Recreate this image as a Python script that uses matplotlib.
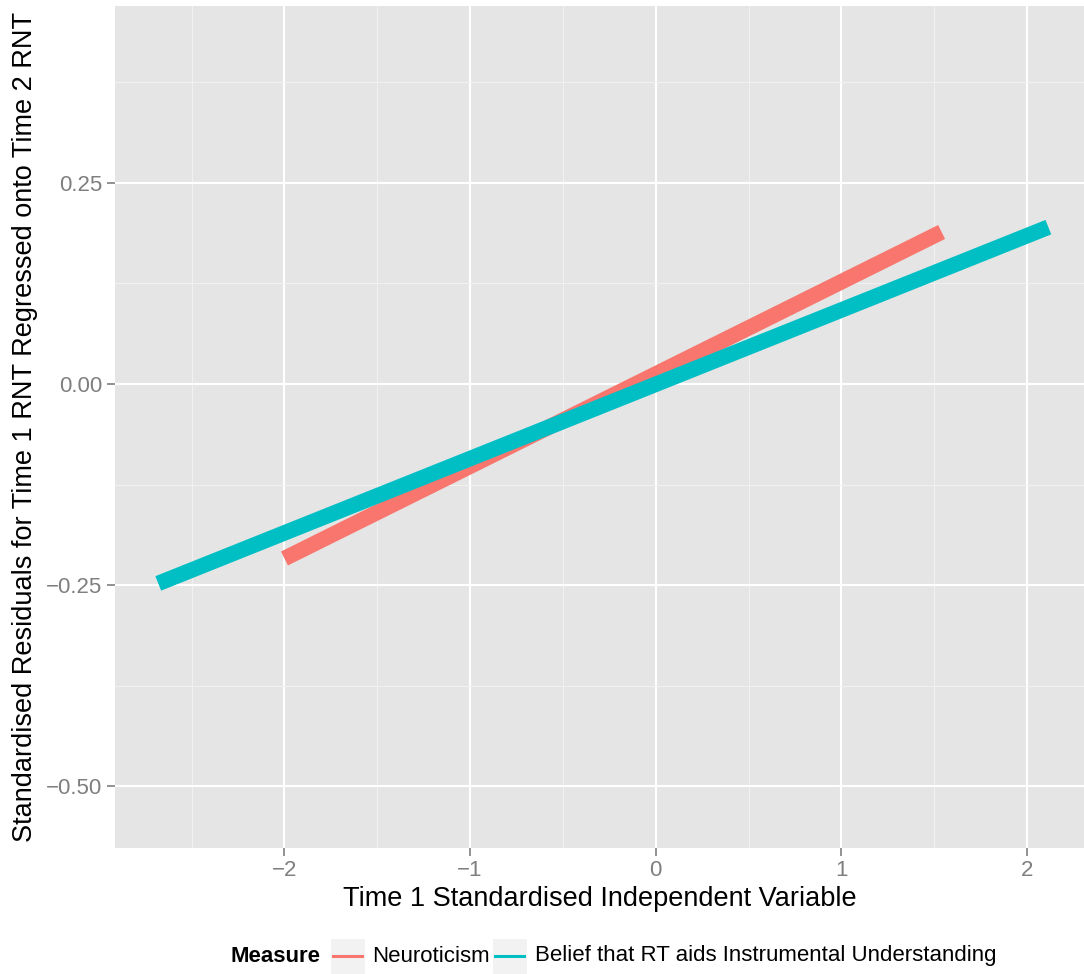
import matplotlib
matplotlib.use("Agg")
import matplotlib.pyplot as plt
from matplotlib.patches import Rectangle
from matplotlib.lines import Line2D
from matplotlib.ticker import MultipleLocator

# ---- data ----
series_names = ["Neuroticism", "Belief that RT aids Instrumental Understanding"]
neuro_x = [-2.0, 1.54]
neuro_y = [-0.217, 0.189]
belief_x = [-2.68, 2.115]
belief_y = [-0.248, 0.195]
colors = ["#F8766D", "#00BFC4"]
x_ticks = [-2, -1, 0, 1, 2]
x_tick_labels = ["\u22122", "\u22121", "0", "1", "2"]
y_ticks = [-0.50, -0.25, 0.00, 0.25]
y_tick_labels = ["\u22120.50", "\u22120.25", "0.00", "0.25"]

plt.rcParams["font.family"] = ["Liberation Sans", "DejaVu Sans"]

W, H = 1084, 974
fig = plt.figure(figsize=(W / 100, H / 100), dpi=100)
ax = fig.add_axes([115 / W, (H - 848) / H, (1084 - 115) / W, (848 - 6) / H])
ax.set_facecolor("#E5E5E5")
for s in ax.spines.values():
    s.set_visible(False)

ax.set_xlim(-2.913, 2.307)
ax.set_ylim(-0.577, 0.470)
ax.set_xticks(x_ticks)
ax.set_xticklabels(x_tick_labels)
ax.set_yticks(y_ticks)
ax.set_yticklabels(y_tick_labels)
ax.xaxis.set_minor_locator(MultipleLocator(0.5))
ax.yaxis.set_minor_locator(MultipleLocator(0.125))
ax.grid(which="major", color="white", linewidth=1.5)
ax.grid(which="minor", color="#F2F2F2", linewidth=0.7)
ax.set_axisbelow(True)
ax.tick_params(which="major", length=6, width=1.2, color="#7F7F7F",
               labelcolor="#7F7F7F", labelsize=16, pad=3)
ax.tick_params(which="minor", length=0)

ax.plot(neuro_x, neuro_y, color=colors[0], lw=11.2, solid_capstyle="butt")
ax.plot(belief_x, belief_y, color=colors[1], lw=11.2, solid_capstyle="butt")

ax.set_xlabel("Time 1 Standardised Independent Variable", fontsize=19.5, labelpad=3)
ax.set_ylabel("Standardised Residuals for Time 1 RNT Regressed onto Time 2 RNT",
              fontsize=19.5, labelpad=6)

# ---- legend (bottom, horizontal) ----
def px(x, y):
    return x / W, 1 - y / H

ly = 956
fig.text(*px(231, ly), "Measure", fontsize=16, fontweight="bold",
         ha="left", va="center")
key_x = [330, 492]
text_x = [372, 535]
for kx, tx, c, name in zip(key_x, text_x, colors, series_names):
    x0, y0 = px(kx, 974)
    fig.add_artist(Rectangle((x0, y0), 35 / W, 36 / H, transform=fig.transFigure,
                             facecolor="#F2F2F2", edgecolor="white", lw=0.8))
    xa, ya = px(kx + 3, ly)
    xb, _ = px(kx + 32, ly)
    fig.add_artist(Line2D([xa, xb], [ya, ya], transform=fig.transFigure,
                          color=c, lw=2.2))
    fig.text(*px(tx, ly), name, fontsize=16, ha="left", va="center")

fig.savefig("out.png", dpi=100)
